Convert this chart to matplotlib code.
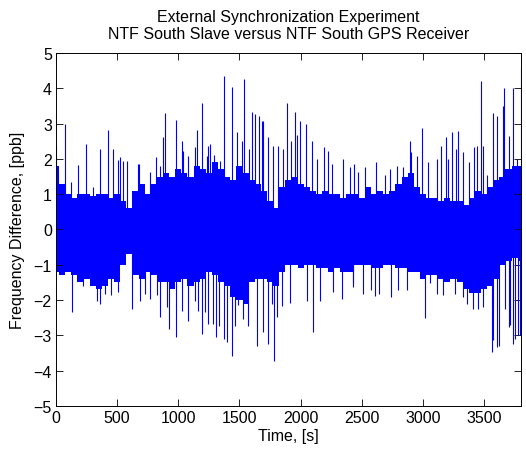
import numpy as np
import matplotlib
matplotlib.use("Agg")
import matplotlib.pyplot as plt

plt.rcParams['font.family'] = ['Liberation Sans', 'DejaVu Sans']

# dense band of the signal, read every 50 s
band_time = list(range(0, 3801, 50))
band_upper = [1.8, 1.3, 1.0, 0.9, 1.0, 1.0, 0.95, 1.0, 1.0, 0.9,
              1.0, 0.8, 0.6, 1.1, 1.3, 1.0, 1.3, 1.5, 1.6, 1.5,
              1.7, 1.6, 1.5, 1.8, 1.7, 1.6, 1.9, 1.7, 1.5, 1.4,
              1.8, 1.6, 1.4, 1.3, 1.1, 0.8, 0.6, 1.2, 1.4, 1.5,
              1.3, 1.2, 1.1, 1.0, 1.1, 1.0, 1.0, 0.9, 1.0, 1.0,
              0.9, 1.2, 1.0, 1.1, 1.0, 1.1, 1.3, 1.5, 1.6, 1.2,
              1.0, 0.9, 0.9, 0.8, 0.9, 0.8, 0.8, 0.7, 0.9, 1.1,
              1.0, 1.2, 1.4, 1.5, 1.7, 1.8, 1.8]
band_lower = [-1.2, -1.3, -1.2, -1.3, -1.5, -1.4, -1.6, -1.7, -1.6, -1.4,
              -1.5, -1.0, -0.7, -1.3, -1.4, -1.2, -1.3, -1.5, -1.5, -1.7,
              -1.5, -1.4, -1.6, -1.5, -1.4, -1.2, -1.3, -1.5, -1.6, -1.9,
              -2.0, -2.1, -1.5, -1.4, -1.4, -1.5, -1.6, -1.2, -1.0, -1.0,
              -1.1, -1.0, -1.0, -1.1, -1.1, -1.2, -1.1, -1.2, -1.2, -1.0,
              -1.0, -1.0, -1.1, -1.1, -1.0, -1.0, -1.1, -1.1, -1.2, -1.2,
              -1.4, -1.3, -1.3, -1.4, -1.5, -1.4, -1.5, -1.7, -1.8, -1.8,
              -1.7, -1.6, -1.4, -1.0, -0.9, -0.8, -0.9]

# spikes sticking out of the band
spike_up_time = [0, 19, 74, 120, 183, 243, 305, 360, 428, 469, 510, 523, 545,
                 578, 673, 681, 768, 817, 850, 872, 891, 978, 1028, 1041, 1082,
                 1136, 1150, 1191, 1232, 1240, 1259, 1292, 1341, 1374, 1437,
                 1483, 1518, 1537, 1580, 1600, 1627, 1663, 1681, 1695, 1736,
                 1777, 1818, 1853, 1892, 1918, 1954, 1967, 1995, 2044, 2091,
                 2131, 2191, 2227, 2254, 2349, 2403, 2440, 2472, 2526, 2616,
                 2690, 2731, 2785, 2840, 2894, 2900, 2949, 2990, 3045, 3113,
                 3146, 3189, 3208, 3236, 3272, 3290, 3331, 3377, 3418, 3445,
                 3473, 3494, 3527, 3570, 3603, 3658, 3666, 3707, 3740, 3767,
                 3799]
spike_up_value = [2.37, 1.63, 2.99, 1.35, 1.82, 2.42, 1.21, 2.28, 2.82, 2.28,
                  1.98, 2.05, 1.95, 1.95, 1.85, 1.85, 1.62, 2.05, 1.81, 2.61,
                  3.30, 3.10, 2.51, 2.23, 2.09, 2.33, 2.82, 3.58, 2.09, 2.37,
                  2.42, 2.10, 1.95, 4.36, 4.03, 2.75, 2.52, 4.26, 2.28, 3.34,
                  3.27, 3.22, 3.08, 3.08, 2.61, 2.37, 2.37, 2.28, 3.57, 2.52,
                  3.34, 2.68, 3.08, 2.99, 2.52, 2.00, 2.33, 2.23, 1.85, 2.00,
                  1.77, 1.85, 1.62, 1.77, 1.91, 1.53, 1.72, 1.81, 1.77, 2.52,
                  2.19, 2.09, 2.87, 1.91, 2.00, 2.37, 2.62, 2.00, 2.76, 2.28,
                  2.80, 2.19, 1.91, 2.33, 2.37, 4.20, 2.37, 1.53, 3.29, 3.22,
                  3.50, 4.00, 2.66, 4.00, 2.00, 4.57]
spike_down_time = [60, 128, 223, 332, 360, 401, 450, 510, 619, 687, 727, 768,
                   823, 850, 905, 924, 978, 1028, 1082, 1136, 1164, 1191, 1218,
                   1245, 1286, 1308, 1336, 1374, 1395, 1441, 1464, 1491, 1531,
                   1573, 1646, 1695, 1736, 1763, 1782, 1804, 1845, 1913, 2050,
                   2099, 2159, 2268, 2336, 2426, 2431, 2507, 2573, 2608, 2644,
                   2737, 2799, 2867, 3016, 3058, 3118, 3167, 3263, 3331, 3358,
                   3412, 3453, 3494, 3562, 3576, 3603, 3622, 3671, 3707, 3712,
                   3740, 3753, 3780, 3794]
spike_down_value = [-1.07, -2.35, -1.59, -2.02, -2.11, -1.82, -1.87, -1.78,
                    -2.26, -2.02, -1.82, -1.97, -1.87, -2.49, -2.21, -2.82,
                    -3.05, -2.30, -2.58, -2.02, -2.30, -2.96, -2.35, -2.68,
                    -2.68, -3.05, -2.73, -3.10, -3.19, -3.57, -2.73, -2.15,
                    -2.53, -2.73, -3.29, -2.91, -3.24, -2.11, -3.73, -2.49,
                    -2.16, -2.07, -2.02, -2.91, -2.02, -1.78, -1.97, -1.53,
                    -1.64, -1.83, -1.72, -1.88, -1.82, -1.92, -1.72, -1.72,
                    -2.51, -1.53, -1.82, -1.87, -1.82, -1.92, -2.11, -2.25,
                    -2.25, -2.21, -3.46, -3.14, -3.34, -3.29, -2.25, -2.75,
                    -2.72, -3.24, -3.10, -3.00, -3.00]

blue = '#0000ff'
fig = plt.figure(figsize=(5.26, 4.52), dpi=100)
ax = fig.add_axes([0.1065, 0.0996, 0.8835, 0.781])

ax.fill_between(band_time, band_lower, band_upper, step='mid',
                color=blue, linewidth=0)
ax.vlines(spike_up_time, 0, spike_up_value, color=blue, linewidth=0.8)
ax.vlines(spike_down_time, spike_down_value, 0, color=blue, linewidth=0.8)

ax.set_xlim(0, 3800)
ax.set_ylim(-5, 5)
ax.set_xticks(range(0, 3501, 500))
ax.set_yticks(range(-5, 6))
ax.tick_params(direction='in', top=True, right=True, length=5, width=0.6,
               labelsize=11.5, pad=3)
for s in ax.spines.values():
    s.set_linewidth(0.7)

ax.set_xlabel('Time, [s]', fontsize=11.5, labelpad=2)
ax.set_ylabel('Frequency Difference, [ppb]', fontsize=11.5, labelpad=6)
ax.set_title('External Synchronization Experiment\n'
             'NTF South Slave versus NTF South GPS Receiver',
             fontsize=11.5, pad=11, linespacing=1.1)

fig.savefig('out.png', dpi=100)
